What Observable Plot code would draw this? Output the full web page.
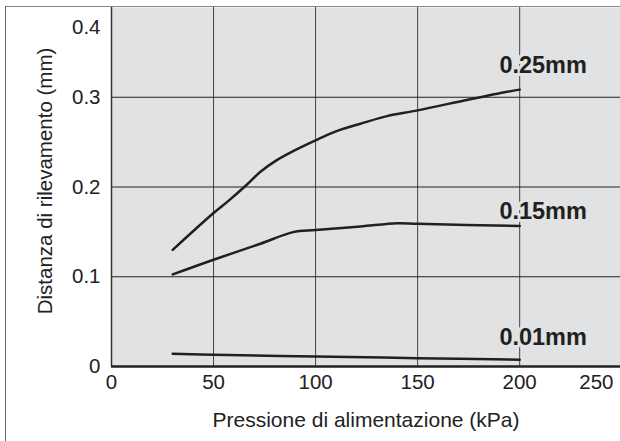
<!DOCTYPE html>
<html>
<head>
<meta charset="utf-8">
<script src="https://cdn.jsdelivr.net/npm/d3@7"></script>
<script src="https://cdn.jsdelivr.net/npm/@observablehq/plot@0.6"></script>
<style>
  html, body { margin: 0; padding: 0; background: #fff; }
  #wrap { position: relative; width: 620px; height: 441px; overflow: hidden; }
  #border { position: absolute; left: 5px; top: 6px; width: 630px; height: 450px;
            border-left: 1.5px solid #666; border-top: 1.5px solid #888; box-sizing: border-box; pointer-events: none; }
  svg { position: absolute; left: 0; top: 0; }
</style>
</head>
<body>
<div id="wrap"><div id="border"></div></div>
<script>
// ---- data ----
const pressure25 = [30, 50, 57, 66, 73, 81, 89, 100, 110, 122, 135, 150, 174, 189, 200];
const dist25     = [0.130, 0.171, 0.184, 0.202, 0.217, 0.230, 0.240, 0.252, 0.262, 0.2705, 0.279, 0.2854, 0.297, 0.304, 0.3085];
const pressure15 = [30, 50, 73, 89, 100, 122, 140, 150, 200];
const dist15     = [0.1026, 0.119, 0.1368, 0.1497, 0.152, 0.156, 0.1597, 0.159, 0.1565];
const pressure01 = [30, 50, 100, 150, 200];
const dist01     = [0.0141, 0.013, 0.0111, 0.0093, 0.0075];
const seriesNames = ["0.25mm", "0.15mm", "0.01mm"];
const labelPressure = [211.5, 211.5, 211.5];
const labelDist = [0.3356, 0.1728, 0.0327];
const xTicks = [0, 50, 100, 150, 200, 250];
const yTicks = [0, 0.1, 0.2, 0.3, 0.4];
const xTitle = "Pressione di alimentazione (kPa)";
const yTitle = "Distanza di rilevamento (mm)";

// ---- build ----
const rows = [
  ...pressure25.map((p, i) => ({s: seriesNames[0], p, d: dist25[i]})),
  ...pressure15.map((p, i) => ({s: seriesNames[1], p, d: dist15[i]})),
  ...pressure01.map((p, i) => ({s: seriesNames[2], p, d: dist01[i]}))
];
const labels = seriesNames.map((s, i) => ({s, p: labelPressure[i], d: labelDist[i]}));
const xMax = 249.4;
const bg = "#e1e2e4";
const ink = "#231f20";
const font = "'Liberation Sans', Arial, Helvetica, sans-serif";

const chart = Plot.plot({
  width: 620,
  height: 441,
  marginLeft: 111,
  marginRight: 0,
  marginTop: 7,
  marginBottom: 75,
  style: {fontFamily: font, fontSize: "20px", color: "#222", background: "transparent"},
  x: {domain: [0, xMax]},
  y: {domain: [0, 0.4]},
  marks: [
    Plot.frame({fill: bg, stroke: null}),
    Plot.gridX(xTicks.filter(t => t > 0 && t < xMax), {stroke: "#444", strokeOpacity: 1, strokeWidth: 1}),
    Plot.gridY(yTicks.filter(t => t > 0 && t < 0.4), {stroke: "#222", strokeOpacity: 1, strokeWidth: 1}),
    Plot.ruleX([0], {stroke: "#333", strokeWidth: 1.5}),
    Plot.line(rows, {x: "p", y: "d", z: "s", stroke: ink, strokeWidth: 2.5, curve: "catmull-rom"}),
    Plot.ruleY([0], {stroke: "#222", strokeWidth: 2.5}),
    Plot.text(labels, {x: "p", y: "d", text: "s", fontSize: 23.5, fontWeight: "bold", fill: ink,
      stroke: bg, strokeWidth: 6, textAnchor: "middle"}),
    Plot.axisX(xTicks.filter(t => t <= xMax), {tickSize: 0, tickPadding: 8, fontSize: 20.5, fill: "#222", label: null}),
    Plot.text(xTicks.filter(t => t > xMax), {x: () => xMax, y: () => 0, text: d => String(d),
      textAnchor: "end", lineAnchor: "top", dx: -7, dy: 8, fontSize: 20.5, fill: "#222"}),
    Plot.axisY(yTicks.filter(t => t < 0.4), {tickSize: 0, tickPadding: 11, fontSize: 20.5, fill: "#222",
      tickFormat: d => d === 0 ? "0" : d.toFixed(1), label: null}),
    Plot.text(yTicks.filter(t => t >= 0.4), {x: () => 0, y: d => d, text: d => d.toFixed(1),
      textAnchor: "end", dx: -11, dy: 20, fontSize: 20.5, fill: "#222"}),
    Plot.text([xTitle], {frameAnchor: "bottom", text: d => d, dy: 54, lineAnchor: "middle",
      textAnchor: "middle", fontSize: 21, fill: "#222"}),
    Plot.text([yTitle], {frameAnchor: "left", text: d => d, rotate: -90, dx: -66, dy: -6,
      lineAnchor: "middle", textAnchor: "middle", fontSize: 20.5, fill: "#222"})
  ]
});
document.getElementById("wrap").prepend(chart);
</script>
</body>
</html>
